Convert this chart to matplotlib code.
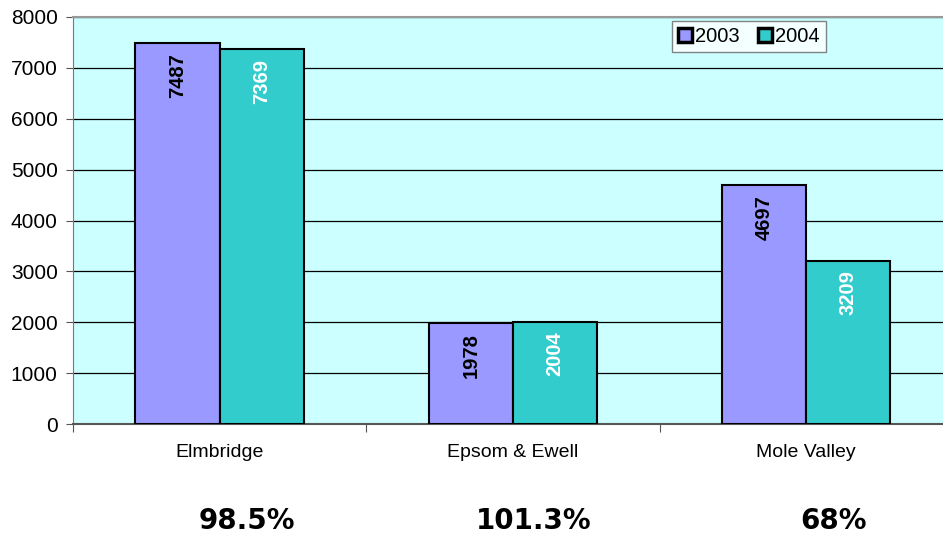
import matplotlib.pyplot as plt
import numpy as np

districts = ['Elmbridge', 'Epsom & Ewell', 'Mole Valley']
values_2003 = [7487, 1978, 4697]
values_2004 = [7369, 2004, 3209]
ratios = ['98.5%', '101.3%', '68%']
ratio_x = [247, 534, 834]

plt.rcParams['font.family'] = ['Liberation Sans', 'DejaVu Sans']

fig = plt.figure(figsize=(9.43, 5.38), dpi=100)
ax = fig.add_axes([73 / 943, 114 / 538, 1 - 73 / 943, 407 / 538])
ax.set_facecolor('#CCFFFF')

x = np.arange(len(districts))
w = 0.287
b1 = ax.bar(x - w / 2, values_2003, w, color='#9999FF', edgecolor='black',
            linewidth=1.5, label='2003', zorder=3)
b2 = ax.bar(x + w / 2, values_2004, w, color='#33CCCC', edgecolor='black',
            linewidth=1.5, label='2004', zorder=3)

# value labels, rotated, hanging from the top of each bar
for bars, col in ((b1, 'black'), (b2, 'white')):
    for r in bars:
        ax.text(r.get_x() + r.get_width() / 2, r.get_height() - 190,
                '{:d}'.format(int(r.get_height())), rotation=90,
                ha='center', va='top', fontsize=14.5, fontweight='bold',
                color=col, zorder=4)

ax.set_ylim(0, 8000)
ax.set_yticks(range(0, 8001, 1000))
ax.set_xlim(-0.5, 2.466)
ax.yaxis.grid(True, color='black', linewidth=0.9, zorder=1)
ax.set_axisbelow(True)

ax.set_xticks([-0.5, 0.5, 1.5])
ax.set_xticklabels([])
ax.tick_params(axis='x', length=6, color='#555555')
ax.tick_params(axis='y', length=5, labelsize=15, color='#555555', pad=6)
for i, name in enumerate(districts):
    ax.text(i, -570, name, ha='center', va='center', fontsize=14)

for px, s in zip(ratio_x, ratios):
    fig.text(px / 943, 1 - 521 / 538, s, ha='center', va='center',
             fontsize=20, fontweight='bold', family=['DejaVu Sans'])

ax.spines['right'].set_visible(False)
ax.spines['top'].set_color('#999999')
ax.spines['top'].set_linewidth(1.5)
ax.spines['left'].set_color('#777777')
ax.spines['bottom'].set_color('#555555')
ax.spines['bottom'].set_linewidth(1.5)

leg = ax.legend(loc='upper left', bbox_to_anchor=((672 - 73) / 870, 1 - 4 / 407),
                ncol=2, fontsize=14.5, frameon=True, fancybox=False,
                handlelength=0.7, handleheight=0.7, handletextpad=0.15,
                columnspacing=0.9, borderpad=0.3, borderaxespad=0)
leg.get_frame().set_edgecolor('#666666')
leg.get_frame().set_linewidth(1)
for h in leg.legend_handles:
    h.set_linewidth(2.5)

fig.savefig('out.png', dpi=100)
